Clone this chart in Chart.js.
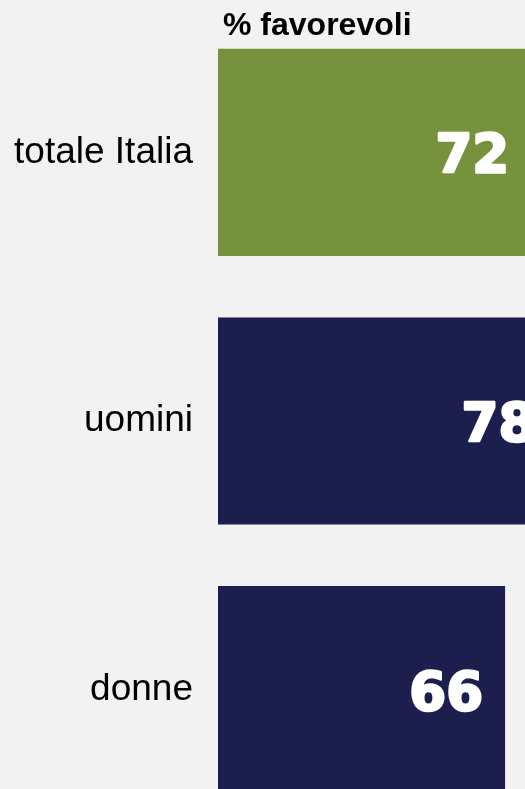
<!DOCTYPE html>
<html>
<head>
<meta charset="utf-8">
<script src="https://cdn.jsdelivr.net/npm/chart.js@4/dist/chart.umd.min.js"></script>
<style>
  html, body { margin: 0; padding: 0; background: #f2f2f2; overflow: hidden; }
  #wrap { position: absolute; left: 0; top: 0; width: 566px; height: 824px; }
</style>
</head>
<body>
<div id="wrap"><canvas id="favChart"></canvas></div>
<script>
const groupLabels = ["totale Italia", "uomini", "donne"];
const favorevoli = [72, 78, 66];
const barColors = ["#76923c", "#1c1f4e", "#1c1f4e"];
const chartTitle = "% favorevoli";

// heavy white numbers inside the end of each bar
const valueLabels = {
  id: "valueLabels",
  afterDatasetsDraw(chart) {
    const ctx = chart.ctx;
    const meta = chart.getDatasetMeta(0);
    ctx.save();
    ctx.fillStyle = "#ffffff";
    ctx.strokeStyle = "#ffffff";
    ctx.lineWidth = 2.5;
    ctx.lineJoin = "round";
    ctx.font = "bold 53px 'DejaVu Sans'";
    ctx.textAlign = "right";
    ctx.textBaseline = "alphabetic";
    meta.data.forEach((bar, i) => {
      const text = String(favorevoli[i]);
      ctx.fillText(text, bar.x - 22, bar.y + 20);
      ctx.strokeText(text, bar.x - 22, bar.y + 20);
    });
    ctx.restore();
  }
};

const topTitle = {
  id: "topTitle",
  afterDraw(chart) {
    const ctx = chart.ctx;
    ctx.save();
    ctx.fillStyle = "#000000";
    ctx.font = "bold 32px 'Liberation Sans', Arial, sans-serif";
    ctx.textAlign = "left";
    ctx.textBaseline = "alphabetic";
    ctx.fillText(chartTitle, chart.chartArea.left + 5, 35);
    ctx.restore();
  }
};

new Chart(document.getElementById("favChart"), {
  type: "bar",
  data: {
    labels: groupLabels,
    datasets: [{
      data: favorevoli,
      backgroundColor: barColors,
      borderWidth: 0,
      categoryPercentage: 1,
      barPercentage: 0.771
    }]
  },
  options: {
    indexAxis: "y",
    responsive: true,
    maintainAspectRatio: false,
    animation: false,
    layout: {
      autoPadding: false,
      padding: { top: 18, right: 0, bottom: 0, left: 0 }
    },
    scales: {
      x: {
        display: false,
        min: 0,
        max: 80
      },
      y: {
        grid: { display: false, drawTicks: false },
        border: { display: false },
        ticks: {
          color: "#000000",
          padding: 25,
          font: { family: "'Liberation Sans', Arial, sans-serif", size: 37 }
        },
        afterFit: scale => {
          scale.width = 218;
          scale.paddingTop = 0;
          scale.paddingBottom = 0;
        }
      }
    },
    plugins: {
      legend: { display: false },
      tooltip: { enabled: false }
    }
  },
  plugins: [valueLabels, topTitle]
});
</script>
</body>
</html>
